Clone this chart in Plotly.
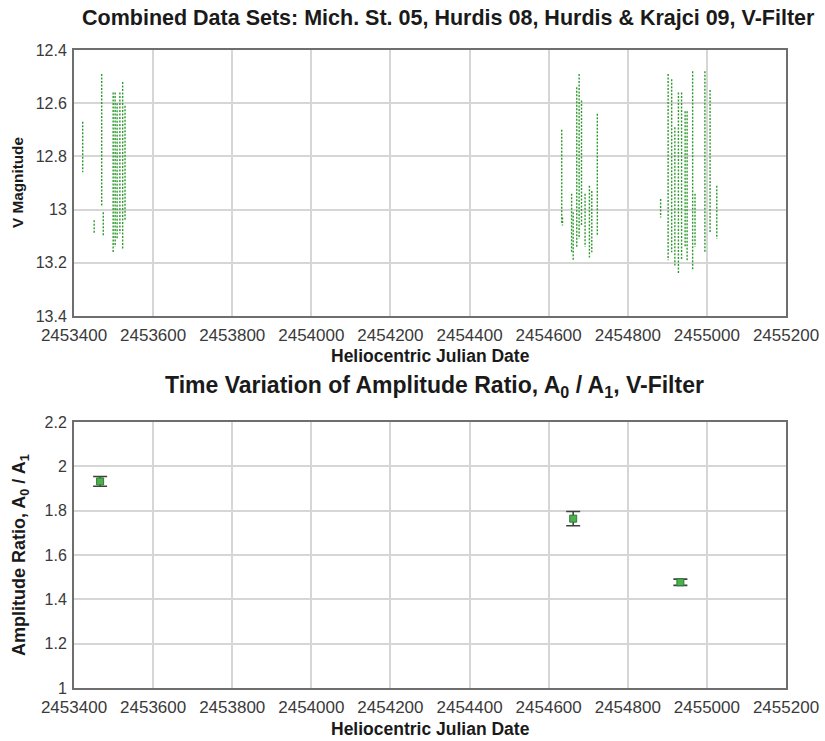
import plotly.graph_objects as go

# ---------------- Data ----------------
# Top panel: nightly observation streaks (HJD, brightest V, faintest V)
streak_hjd = [2453422, 2453451, 2453470, 2453474, 2453499, 2453504, 2453509, 2453516, 2453523, 2453529,
              2454633, 2454635, 2454658, 2454662, 2454671, 2454677, 2454683, 2454692, 2454703, 2454709, 2454723,
              2454883, 2454902, 2454911, 2454919, 2454928, 2454936, 2454945, 2454950, 2454964, 2454970,
              2454995, 2455008, 2455025]
streak_vmin = [12.67, 13.04, 12.49, 13.01, 12.56, 12.56, 12.60, 12.56, 12.52, 12.61,
               12.70, 13.03, 12.94, 13.01, 12.54, 12.49, 12.59, 12.94, 12.91, 12.93, 12.64,
               12.96, 12.49, 12.51, 12.69, 12.56, 12.56, 12.63, 12.63, 12.48, 12.94,
               12.48, 12.55, 12.91]
streak_vmax = [12.86, 13.09, 12.99, 13.10, 13.16, 13.14, 13.11, 13.09, 13.15, 13.04,
               13.05, 13.06, 13.16, 13.19, 13.14, 13.11, 13.06, 13.14, 13.18, 13.16, 13.10,
               13.03, 13.19, 13.16, 13.21, 13.24, 13.19, 13.14, 13.19, 13.23, 13.14,
               13.16, 13.09, 13.11]

# Bottom panel: amplitude ratio A0/A1 per season
ratio_hjd = [2453466, 2454662, 2454933]
ratio_val = [1.932, 1.764, 1.477]
ratio_err = [0.022, 0.032, 0.014]

x_ticks = [2453400, 2453600, 2453800, 2454000, 2454200, 2454400, 2454600, 2454800, 2455000, 2455200]
top_y_ticks = [12.4, 12.6, 12.8, 13, 13.2, 13.4]
bot_y_ticks = [1, 1.2, 1.4, 1.6, 1.8, 2, 2.2]

# ---------------- Build ----------------
W, H = 825, 741
GREEN = "#2e9a2e"
FONT = "Liberation Sans, Arial, sans-serif"

sx, sy = [], []
for x, a, b in zip(streak_hjd, streak_vmin, streak_vmax):
    sx += [x, x, None]
    sy += [a, b, None]

fig = go.Figure()
fig.add_trace(go.Scatter(x=sx, y=sy, mode="lines", xaxis="x", yaxis="y",
                         line=dict(color=GREEN, width=1.4, dash="2px,1.5px"),
                         showlegend=False, hoverinfo="skip"))
fig.add_trace(go.Scatter(x=ratio_hjd, y=ratio_val, mode="markers", xaxis="x2", yaxis="y2",
                         marker=dict(color="#4caf50", size=7, symbol="square",
                                     line=dict(color="#2e7d32", width=1)),
                         error_y=dict(type="data", array=ratio_err, visible=True,
                                      color="#404040", thickness=1.6, width=7),
                         showlegend=False))

def px2paper(py):
    return 1 - py / H

common = dict(showgrid=True, gridcolor="#d6d6d6", gridwidth=1.5,
              showline=True, linecolor="#6e6e6e", linewidth=2, mirror=True,
              zeroline=False, ticks="outside", tickcolor="rgba(0,0,0,0)",
              automargin=False)
xaxis_style = dict(common, ticklen=3, tickfont=dict(family=FONT, size=17, color="#3a3a3a"))
yaxis_style = dict(common, ticklen=2, tickfont=dict(family=FONT, size=16, color="#3a3a3a"))

xdom = [74 / W, 786 / W]
fig.update_layout(
    width=W, height=H,
    margin=dict(l=0, r=0, t=0, b=0, autoexpand=False),
    paper_bgcolor="white", plot_bgcolor="white",
    xaxis=dict(domain=xdom, range=[2453400, 2455200], tickvals=x_ticks,
               ticktext=[str(v) for v in x_ticks], anchor="y", **xaxis_style),
    yaxis=dict(domain=[px2paper(316), px2paper(50)], range=[13.4, 12.4],
               tickvals=top_y_ticks, ticktext=[f"{v:g}" for v in top_y_ticks],
               anchor="x", **yaxis_style),
    xaxis2=dict(domain=xdom, range=[2453400, 2455200], tickvals=x_ticks,
                ticktext=[str(v) for v in x_ticks], anchor="y2", **xaxis_style),
    yaxis2=dict(domain=[px2paper(688), px2paper(422)], range=[1, 2.2],
                tickvals=bot_y_ticks, ticktext=[f"{v:g}" for v in bot_y_ticks],
                anchor="x2", **yaxis_style),
)

def ann(text, x, y, size, angle=0):
    fig.add_annotation(text=text, x=x / W, y=px2paper(y), xref="paper", yref="paper",
                       showarrow=False, textangle=angle, xanchor="center", yanchor="middle",
                       font=dict(family=FONT, size=size, color="#1a1a1a"))

ann("<b>Combined Data Sets: Mich. St. 05, Hurdis 08, Hurdis &amp; Krajci 09, V-Filter</b>", 449, 18, 21.5)
ann("<b>Heliocentric Julian Date</b>", 430, 356, 17.5)
ann("<b>V Magnitude</b>", 17, 183, 15.3, -90)
ann("<b>Time Variation of Amplitude Ratio, A<sub>0</sub> / A<sub>1</sub>, V-Filter</b>", 435, 386, 23)
ann("<b>Heliocentric Julian Date</b>", 430, 729, 17.5)
ann("<b>Amplitude Ratio, A<sub>0</sub> / A<sub>1</sub></b>", 20, 555, 18, -90)

fig.write_html("out.html", config={"displayModeBar": False},
               post_script="document.body.style.margin='0';document.body.style.overflow='hidden';")
